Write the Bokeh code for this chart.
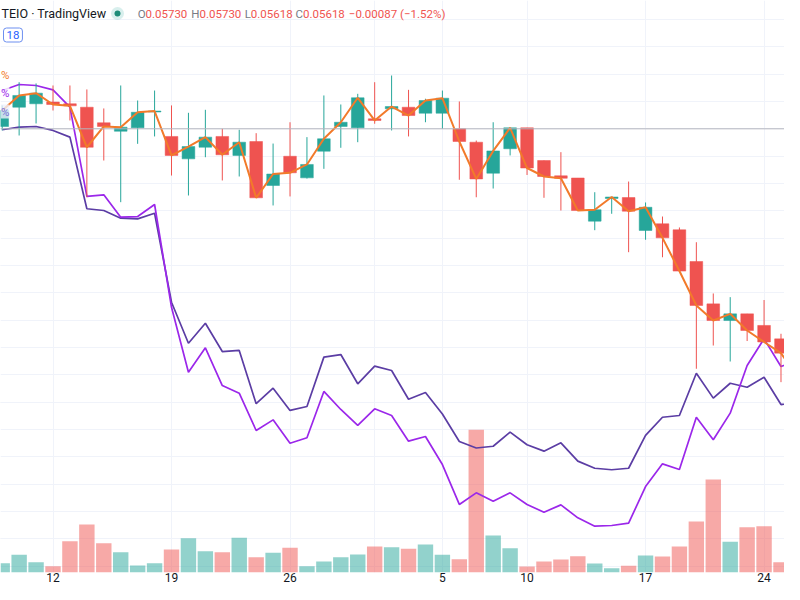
from bokeh.plotting import figure
from bokeh.models import ColumnDataSource, Range1d, FixedTicker, Label, Span, Grid
from bokeh.embed import file_html
from bokeh.resources import INLINE

# ---------------- data (values in % change from the base close) ----------------
dates = ["Nov 9", "Nov 10", "Nov 11", "Nov 12", "Nov 13", "Nov 14", "Nov 15", "Nov 16",
         "Nov 17", "Nov 18", "Nov 19", "Nov 20", "Nov 21", "Nov 22", "Nov 23", "Nov 24",
         "Nov 25", "Nov 26", "Nov 27", "Nov 28", "Nov 29", "Nov 30", "Dec 1", "Dec 2",
         "Dec 3", "Dec 4", "Dec 5", "Dec 6", "Dec 7", "Dec 8", "Dec 9", "Dec 10",
         "Dec 11", "Dec 12", "Dec 13", "Dec 14", "Dec 15", "Dec 16", "Dec 17", "Dec 18",
         "Dec 19", "Dec 20", "Dec 21", "Dec 22", "Dec 23", "Dec 24", "Dec 25", "Dec 26"]

opens = [0.17, 1.58, 1.83, 1.96, 1.83, 1.58, 0.44, -0.18, 0.07, 1.23,
         -0.56, -2.20, -1.35, -0.56, -1.95, -0.93, -4.15, -2.01, -3.59, -1.64,
         0.17, 0.07, 0.73, 1.46, 1.58, 1.14, 1.14, 0.00, -0.98, -3.25,
         -1.46, 0.07, -2.32, -3.44, -3.60, -6.76, -5.10, -5.03, -7.44, -6.95,
         -7.39, -9.71, -12.81, -14.03, -13.54, -14.39, -15.37, -18.46]
highs = [1.71, 3.41, 3.32, 3.17, 3.17, 2.88, 1.49, 3.17, 2.07, 2.80,
         1.71, 1.17, 1.39, 0.00, -0.07, -0.32, -1.08, 0.48, -0.61, 2.44,
         1.78, 2.56, 3.41, 3.90, 2.85, 2.20, 2.80, 2.00, -0.86, 0.48,
         0.07, 0.07, -2.32, -1.71, -3.60, -4.64, -4.99, -3.86, -5.39, -6.42,
         -7.22, -8.30, -12.05, -12.32, -13.54, -12.53, -15.00, -16.37]
lows = [-0.12, -0.49, 0.39, 1.34, 0.61, -5.01, -2.32, -5.37, -1.10, -0.56,
        -3.42, -4.88, -2.08, -3.78, -3.49, -5.05, -5.61, -4.95, -3.64, -2.93,
        -1.39, -0.98, 0.37, -0.12, -0.56, 0.48, 0.00, -3.73, -5.01, -4.37,
        -1.95, -3.38, -5.05, -5.98, -5.98, -7.42, -6.22, -9.03, -8.12, -9.40,
        -10.41, -17.56, -15.86, -17.03, -15.53, -15.60, -18.54, -18.57]
closes = [1.34, 2.44, 2.61, 1.78, 1.68, -1.35, 0.17, 0.12, 1.21, 1.30,
          -1.95, -1.30, -0.61, -1.90, -0.98, -5.05, -3.31, -3.22, -2.61, -0.73,
          0.48, 2.27, 0.61, 1.63, 0.97, 2.07, 2.24, -0.93, -3.67, -1.62,
          0.07, -2.87, -3.49, -3.62, -5.98, -5.92, -4.99, -6.03, -5.74, -7.98,
          -10.41, -12.93, -14.03, -13.54, -14.76, -15.60, -16.42, -18.24]
volumes = [93, 177, 103, 63, 313, 480, 293, 203, 70, 93,
           230, 343, 213, 203, 347, 153, 197, 247, 63, 110,
           153, 180, 260, 253, 237, 280, 177, 133, 1427, 370,
           243, 60, 110, 130, 163, 90, 43, 67, 170, 160,
           260, 510, 930, 307, 453, 463, 103, 27]
compare_violet = [2.80, 3.24, 3.17, 2.85, 1.58, -4.95, -4.83, -6.47, -6.42, -5.54,
                  -13.06, -17.81, -16.03, -18.79, -19.35, -22.08, -21.30, -23.01, -22.61, -19.22,
                  -20.54, -21.71, -20.49, -20.98, -22.86, -22.52, -24.57, -27.49, -26.64, -27.25,
                  -26.64, -27.49, -28.06, -27.52, -28.47, -29.08, -29.03, -28.86, -26.18, -24.52,
                  -24.93, -21.11, -22.76, -20.81, -17.32, -15.37, -17.39, -16.96]
compare_indigo = [-0.07, 0.12, 0.17, -0.12, -0.61, -5.85, -5.98, -6.54, -6.59, -6.18,
                  -12.69, -15.69, -14.23, -16.30, -16.22, -20.12, -18.98, -20.61, -20.32, -16.71,
                  -16.52, -18.66, -17.37, -17.69, -19.79, -19.30, -20.87, -22.88, -23.36, -23.23,
                  -22.20, -23.12, -23.59, -22.98, -24.32, -24.84, -24.95, -24.84, -22.44, -21.11,
                  -20.98, -17.89, -19.71, -18.62, -18.91, -18.18, -20.18, -19.96]

tick_days = ["Nov 12", "Nov 19", "Nov 26", "Dec 1", "Dec 5", "Dec 10", "Dec 17", "Dec 24"]
tick_labels = ["12", "19", "26", "Dec", "5", "10", "17", "24"]
grid_levels = [-32, -30, -28, -26, -24, -22, -20, -18, -16, -14, -12, -10, -8, -6, -4, -2,
               0, 2, 4, 6, 8]

# ---------------- styling ----------------
UP = "#26a69a"
DOWN = "#ef5350"
ORANGE = "#f27a2a"
VIOLET = "#9b27ea"
INDIGO = "#5b3da4"
FONT = "Roboto"

X0, X1 = -0.101, 46.207
Y0, Y1 = -32.47, 9.389
FW, FH = 784, 572

xs = list(range(len(dates)))
up = [c >= o for o, c in zip(opens, closes)]
src = ColumnDataSource(dict(
    x=xs, o=opens, h=highs, l=lows, c=closes, v=volumes,
    top=[max(o, c) for o, c in zip(opens, closes)],
    bot=[min(o, c) for o, c in zip(opens, closes)],
    col=[UP if u else DOWN for u in up],
    vi=compare_violet, ind=compare_indigo,
))

p = figure(frame_width=FW, frame_height=FH, output_backend="svg", toolbar_location=None,
           x_range=Range1d(X0, X1), y_range=Range1d(Y0, Y1), y_axis_location=None,
           min_border_left=0, min_border_right=0, min_border_top=0, min_border_bottom=12)
p.outline_line_color = None
p.background_fill_color = "white"
p.border_fill_color = "white"
p.extra_y_ranges = {"vol": Range1d(0, 5720)}

# axis / grids
tick_x = [dates.index(d) for d in tick_days]
p.xaxis.ticker = FixedTicker(ticks=tick_x)
p.xaxis.major_label_overrides = {t: (" " if lab == "Dec" else lab) for t, lab in zip(tick_x, tick_labels)}
p.xaxis.axis_line_color = None
p.xaxis.major_tick_line_color = None
p.xaxis.minor_tick_line_color = None
p.xaxis.major_tick_in = 0
p.xaxis.major_tick_out = 0
p.xaxis.major_label_standoff = -2
p.xaxis.major_label_text_font = FONT
p.xaxis.major_label_text_font_size = "12px"
p.xaxis.major_label_text_color = "#131722"
p.xgrid.grid_line_color = "#f0f3fa"
p.add_layout(Grid(dimension=1, ticker=FixedTicker(ticks=grid_levels), grid_line_color="#f0f3fa"))

# volume
p.vbar(x="x", top="v", bottom=0, width=0.91, source=src, y_range_name="vol",
       fill_color="col", fill_alpha=0.5, line_color=None)

# base line
p.add_layout(Span(location=0, dimension="width", line_color="#b4b6be", line_width=1))

# comparison lines
p.line("x", "ind", source=src, line_color=INDIGO, line_width=1.7)
p.line("x", "vi", source=src, line_color=VIOLET, line_width=1.7)

# candles
p.segment(x0="x", y0="h", x1="x", y1="l", source=src, line_color="col", line_width=1)
p.vbar(x="x", top="top", bottom="bot", width=0.75, source=src, fill_color="col", line_color="col",
       line_width=0.5)

# close line
p.line("x", "c", source=src, line_color=ORANGE, line_width=2)

# bold month label on the time axis
p.add_layout(Label(x=tick_x[tick_labels.index("Dec")], y=-5, x_units="data", y_units="screen",
                   text="Dec", text_align="center", text_baseline="middle", text_font=FONT,
                   text_font_size="12px", text_font_style="bold", text_color="#131722"))


# ---------------- header (screen units measured from the frame's bottom-left) ----------
def lab(text, px, py, color, size="11.5px", align="left", style="normal", **kw):
    p.add_layout(Label(x=px, y=FH - py, x_units="screen", y_units="screen", text=text,
                       text_align=align, text_baseline="middle", text_font=FONT,
                       text_font_size=size, text_color=color, text_font_style=style, **kw))


lab("TEIO · TradingView", 1, 13, "#131722", size="12.5px")
lab("O", 137.3, 13.5, "#787b86")
lab("0.05730", 145, 13.5, DOWN)
lab("H", 190.7, 13.5, "#787b86")
lab("0.05730", 199, 13.5, DOWN)
lab("L", 244.3, 13.5, "#787b86")
lab("0.05618", 250.3, 13.5, DOWN)
lab("C", 295, 13.5, "#787b86")
lab("0.05618", 302.5, 13.5, DOWN)
lab("\u22120.00087 (\u22121.52%)", 348.3, 13.5, DOWN)
lab("18", 3, 34.5, "#2962ff", size="11.5px", border_line_color="#6d8ff0", border_line_width=1,
    border_radius=3, padding=3, background_fill_color="white")
# left-edge scale labels of the series
lab("%", 0.5, 74, ORANGE, size="11.5px", background_fill_color="white", background_fill_alpha=0.8)
lab("%", 0.5, 92.5, VIOLET, size="11.5px", background_fill_color="white", background_fill_alpha=0.8)
lab("%", 0.5, 111, "#7a6fd6", size="11.5px", background_fill_color="#eef0fb", background_fill_alpha=0.8)

# status dot (position converted from frame pixels to data space)
ppx = FW / (X1 - X0)
ppy = FH / (Y1 - Y0)
dot_x = X0 + 117 / ppx
dot_y = Y1 - 13 / ppy
p.scatter([dot_x], [dot_y], size=13, fill_color=UP, fill_alpha=0.18, line_color=None)
p.scatter([dot_x], [dot_y], size=6, fill_color="#1e8c78", line_color=None)

open("out.html", "w").write(file_html(p, INLINE))
